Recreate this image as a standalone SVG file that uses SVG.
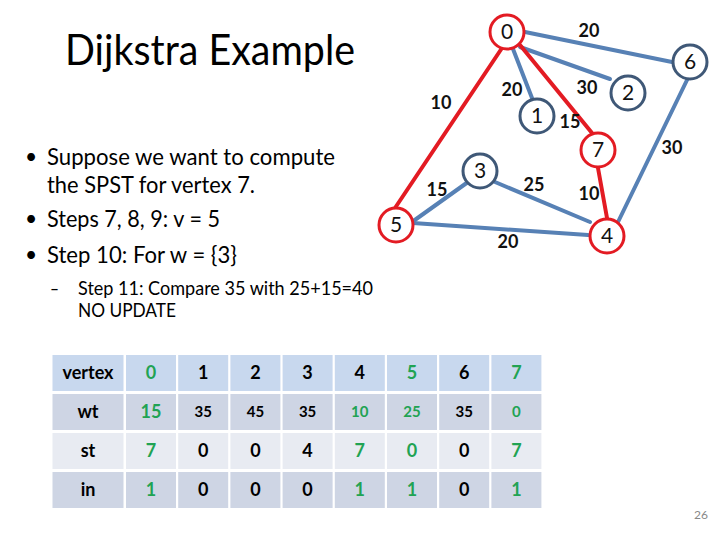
<svg xmlns="http://www.w3.org/2000/svg" width="720" height="540" viewBox="0 0 720 540">
<style>
.t{font-family:Lato,"Open Sans","Liberation Sans",sans-serif;fill:#000}
.e{stroke-width:4;stroke-linecap:round;fill:none}
.b{stroke:#5781b5}
.r{stroke:#e31b23}
.nb{fill:#fff;stroke:#3f5877;stroke-width:3}
.nr{fill:#fff;stroke:#e31b23;stroke-width:3}
.nl{font-family:Lato,"Liberation Sans",sans-serif;font-size:21px;fill:#111;text-anchor:middle}
.el{font-family:Lato,"Liberation Sans",sans-serif;font-size:18px;font-weight:bold;fill:#111;text-anchor:middle}
.h{fill:#c8d8ee}
.o{fill:#ced5e4}
.v{fill:#e8ebf2}
.c{font-family:Lato,"Liberation Sans",sans-serif;font-size:18px;font-weight:bold;text-anchor:middle;fill:#000}
.s{font-size:15px}
.g{fill:#21a353}
</style>
<rect width="720" height="540" fill="#fff"/>
<text class="t" x="65" y="65" font-size="42.7" textLength="290" lengthAdjust="spacingAndGlyphs">Dijkstra Example</text>
<g id="bullets">
<text class="t" x="25" y="164" font-size="21">•</text>
<text class="t" x="47" y="165" font-size="24" textLength="288" lengthAdjust="spacingAndGlyphs">Suppose we want to compute</text>
<text class="t" x="47" y="193" font-size="24" textLength="208" lengthAdjust="spacingAndGlyphs">the SPST for vertex 7.</text>
<text class="t" x="25" y="226" font-size="21">•</text>
<text class="t" x="47" y="227" font-size="24" textLength="173" lengthAdjust="spacingAndGlyphs">Steps 7, 8, 9: v = 5</text>
<text class="t" x="25" y="262" font-size="21">•</text>
<text class="t" x="47" y="263" font-size="24" textLength="190" lengthAdjust="spacingAndGlyphs">Step 10: For w = {3}</text>
<text class="t" x="50" y="295" font-size="18.7" textLength="9" lengthAdjust="spacingAndGlyphs">–</text>
<text class="t" x="78" y="295" font-size="18.7" textLength="295" lengthAdjust="spacingAndGlyphs">Step 11: Compare 35 with 25+15=40</text>
<text class="t" x="78" y="317" font-size="18.7" textLength="98" lengthAdjust="spacingAndGlyphs">NO UPDATE</text>
</g>
<g id="connectors">
<line class="e b" x1="525" y1="32" x2="672" y2="62"/>
<line class="e b" x1="513" y1="49" x2="532" y2="98"/>
<line class="e b" x1="520" y1="47" x2="610" y2="79"/>
<line class="e b" x1="688" y1="78" x2="618" y2="222"/>
<line class="e b" x1="468" y1="182" x2="412" y2="222"/>
<line class="e b" x1="495" y1="182" x2="590" y2="222"/>
<line class="e b" x1="413" y1="223" x2="588" y2="235"/>
<line class="e r" x1="502" y1="48" x2="395" y2="208"/>
<line class="e r" x1="520" y1="45" x2="592" y2="133"/>
<line class="e r" x1="598" y1="168" x2="607" y2="218"/>
</g>
<g id="edge-labels">
<text class="el" x="589" y="37">20</text>
<text class="el" x="441" y="109">10</text>
<text class="el" x="512" y="96">20</text>
<text class="el" x="587" y="94">30</text>
<text class="el" x="570" y="128">15</text>
<text class="el" x="672" y="154">30</text>
<text class="el" x="437" y="196">15</text>
<text class="el" x="534" y="191">25</text>
<text class="el" x="589" y="200">10</text>
<text class="el" x="508" y="248">20</text>
</g>
<g id="node-0"><circle class="nr" cx="507" cy="32" r="17"/><text class="nl" x="507" y="39">0</text></g>
<g id="node-1"><circle class="nb" cx="537" cy="116" r="17"/><text class="nl" x="537" y="123">1</text></g>
<g id="node-2"><circle class="nb" cx="628" cy="93" r="17"/><text class="nl" x="628" y="100">2</text></g>
<g id="node-3"><circle class="nb" cx="480" cy="171" r="17"/><text class="nl" x="480" y="178">3</text></g>
<g id="node-4"><circle class="nr" cx="607" cy="236" r="17"/><text class="nl" x="607" y="243">4</text></g>
<g id="node-5"><circle class="nr" cx="396" cy="225" r="17"/><text class="nl" x="396" y="232">5</text></g>
<g id="node-6"><circle class="nb" cx="690" cy="62" r="17"/><text class="nl" x="690" y="69">6</text></g>
<g id="node-7"><circle class="nr" cx="598" cy="150" r="17"/><text class="nl" x="598" y="157">7</text></g>
<g id="table">
<rect class="h" x="52.5" y="355" width="71" height="36"/>
<rect class="h" x="126" y="355" width="50" height="36"/>
<rect class="h" x="178.2" y="355" width="50" height="36"/>
<rect class="h" x="230.4" y="355" width="50" height="36"/>
<rect class="h" x="282.6" y="355" width="50" height="36"/>
<rect class="h" x="334.8" y="355" width="50" height="36"/>
<rect class="h" x="387" y="355" width="50" height="36"/>
<rect class="h" x="439.2" y="355" width="50" height="36"/>
<rect class="h" x="491.4" y="355" width="50" height="36"/>
<rect class="o" x="52.5" y="394" width="71" height="36"/>
<rect class="o" x="126" y="394" width="50" height="36"/>
<rect class="o" x="178.2" y="394" width="50" height="36"/>
<rect class="o" x="230.4" y="394" width="50" height="36"/>
<rect class="o" x="282.6" y="394" width="50" height="36"/>
<rect class="o" x="334.8" y="394" width="50" height="36"/>
<rect class="o" x="387" y="394" width="50" height="36"/>
<rect class="o" x="439.2" y="394" width="50" height="36"/>
<rect class="o" x="491.4" y="394" width="50" height="36"/>
<rect class="v" x="52.5" y="433" width="71" height="36"/>
<rect class="v" x="126" y="433" width="50" height="36"/>
<rect class="v" x="178.2" y="433" width="50" height="36"/>
<rect class="v" x="230.4" y="433" width="50" height="36"/>
<rect class="v" x="282.6" y="433" width="50" height="36"/>
<rect class="v" x="334.8" y="433" width="50" height="36"/>
<rect class="v" x="387" y="433" width="50" height="36"/>
<rect class="v" x="439.2" y="433" width="50" height="36"/>
<rect class="v" x="491.4" y="433" width="50" height="36"/>
<rect class="o" x="52.5" y="472" width="71" height="36"/>
<rect class="o" x="126" y="472" width="50" height="36"/>
<rect class="o" x="178.2" y="472" width="50" height="36"/>
<rect class="o" x="230.4" y="472" width="50" height="36"/>
<rect class="o" x="282.6" y="472" width="50" height="36"/>
<rect class="o" x="334.8" y="472" width="50" height="36"/>
<rect class="o" x="387" y="472" width="50" height="36"/>
<rect class="o" x="439.2" y="472" width="50" height="36"/>
<rect class="o" x="491.4" y="472" width="50" height="36"/>
<text class="c" x="88" y="379">vertex</text>
<text class="c g" x="151" y="379">0</text>
<text class="c" x="203.2" y="379">1</text>
<text class="c" x="255.4" y="379">2</text>
<text class="c" x="307.6" y="379">3</text>
<text class="c" x="359.8" y="379">4</text>
<text class="c g" x="412" y="379">5</text>
<text class="c" x="464.2" y="379">6</text>
<text class="c g" x="516.4" y="379">7</text>
<text class="c" x="88" y="418">wt</text>
<text class="c g" x="151" y="418">15</text>
<text class="c s" x="203.2" y="417">35</text>
<text class="c s" x="255.4" y="417">45</text>
<text class="c s" x="307.6" y="417">35</text>
<text class="c s g" x="359.8" y="417">10</text>
<text class="c s g" x="412" y="417">25</text>
<text class="c s" x="464.2" y="417">35</text>
<text class="c s g" x="516.4" y="417">0</text>
<text class="c" x="88" y="457">st</text>
<text class="c g" x="151" y="457">7</text>
<text class="c" x="203.2" y="457">0</text>
<text class="c" x="255.4" y="457">0</text>
<text class="c" x="307.6" y="457">4</text>
<text class="c g" x="359.8" y="457">7</text>
<text class="c g" x="412" y="457">0</text>
<text class="c" x="464.2" y="457">0</text>
<text class="c g" x="516.4" y="457">7</text>
<text class="c" x="88" y="496">in</text>
<text class="c g" x="151" y="496">1</text>
<text class="c" x="203.2" y="496">0</text>
<text class="c" x="255.4" y="496">0</text>
<text class="c" x="307.6" y="496">0</text>
<text class="c g" x="359.8" y="496">1</text>
<text class="c g" x="412" y="496">1</text>
<text class="c" x="464.2" y="496">0</text>
<text class="c g" x="516.4" y="496">1</text>
</g>
<text class="t" x="701" y="519" font-size="12" text-anchor="middle" style="fill:#888">26</text>
</svg>
